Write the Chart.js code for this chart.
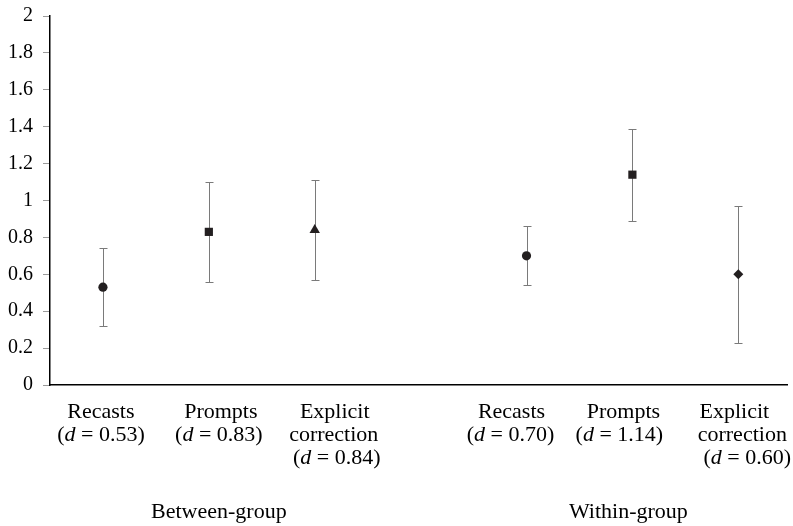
<!DOCTYPE html>
<html>
<head>
<meta charset="utf-8">
<script src="https://cdn.jsdelivr.net/npm/chart.js@4/dist/chart.umd.min.js"></script>
<style>
  html, body { margin: 0; padding: 0; background: #fff; overflow: hidden; }
  #wrap { width: 793px; height: 526px; position: relative; }
</style>
</head>
<body>
<div id="wrap"><canvas id="c" width="793" height="526"></canvas></div>
<script>
// Effect sizes (Cohen's d) with confidence intervals, by feedback type
const feedbackTypes = ['Recasts', 'Prompts', 'Explicit correction', 'Recasts', 'Prompts', 'Explicit correction'];
const groups = ['Between-group', 'Within-group'];
const positions = [0, 1, 2, 4, 5, 6];            // slot 3 is the gap between groups
const effectSizes = [0.53, 0.83, 0.84, 0.70, 1.14, 0.60];
const ciLower = [0.32, 0.56, 0.57, 0.54, 0.89, 0.23];
const ciUpper = [0.74, 1.10, 1.11, 0.86, 1.39, 0.97];
const markerShapes = ['circle', 'rect', 'triangle', 'circle', 'rect', 'rectRot'];
const yTicks = [0, 0.2, 0.4, 0.6, 0.8, 1, 1.2, 1.4, 1.6, 1.8, 2];

// Category label lines (d value is appended as its own line)
const labelLines = [
  ['Recasts'],
  ['Prompts'],
  ['Explicit', 'correction'],
  ['Recasts'],
  ['Prompts'],
  ['Explicit', 'correction']
];
// horizontal nudges (px) of every label line, the last one being the d line
const lineShift = [
  [-2, -2],
  [12, 10],
  [20, 19, 22],
  [-15, -16],
  [-9, -13],
  [-4, 4, 9]
];

const SERIF = '"Liberation Serif", "Times New Roman", serif';
const INK = '#231f20';

const errorBars = {
  id: 'errorBars',
  beforeDatasetsDraw(chart) {
    const { ctx, scales: { x, y } } = chart;
    ctx.save();
    ctx.strokeStyle = '#7a7a7a';
    ctx.lineWidth = 1;
    positions.forEach((p, i) => {
      const px = Math.round(x.getPixelForValue(p)) + 0.5;
      const top = Math.round(y.getPixelForValue(ciUpper[i])) + 0.5;
      const bot = Math.round(y.getPixelForValue(ciLower[i])) + 0.5;
      ctx.beginPath();
      ctx.moveTo(px, top); ctx.lineTo(px, bot);
      ctx.moveTo(px - 4, top); ctx.lineTo(px + 4, top);
      ctx.moveTo(px - 4, bot); ctx.lineTo(px + 4, bot);
      ctx.stroke();
    });
    ctx.restore();
  }
};

// draws "(d = 0.53)" with an italic d
function drawDLabel(ctx, value, cx, baseline, size) {
  const normal = size + 'px ' + SERIF;
  const italic = 'italic ' + size + 'px ' + SERIF;
  const parts = [['(', normal], ['d', italic], [' = ' + value.toFixed(2) + ')', normal]];
  let total = 0;
  parts.forEach(([t, f]) => { ctx.font = f; total += ctx.measureText(t).width; });
  let xx = cx - total / 2;
  ctx.textAlign = 'left';
  parts.forEach(([t, f]) => { ctx.font = f; ctx.fillText(t, xx, baseline); xx += ctx.measureText(t).width; });
}

const categoryLabels = {
  id: 'categoryLabels',
  afterDraw(chart) {
    const { ctx, scales: { x } } = chart;
    const size = 22, lh = 23, first = 418;
    ctx.save();
    ctx.fillStyle = '#000';
    ctx.textBaseline = 'alphabetic';
    positions.forEach((p, i) => {
      const mx = x.getPixelForValue(p);
      const lines = labelLines[i];
      ctx.font = size + 'px ' + SERIF;
      ctx.textAlign = 'center';
      lines.forEach((t, k) => ctx.fillText(t, mx + lineShift[i][k], first + k * lh));
      drawDLabel(ctx, effectSizes[i], mx + lineShift[i][lines.length], first + lines.length * lh, size);
    });
    // group titles centred under each trio
    ctx.font = size + 'px ' + SERIF;
    ctx.textAlign = 'center';
    const g1 = (x.getPixelForValue(positions[0]) + x.getPixelForValue(positions[2])) / 2 + 10;
    const g2 = (x.getPixelForValue(positions[3]) + x.getPixelForValue(positions[5])) / 2 - 4;
    ctx.fillText(groups[0], g1, 518);
    ctx.fillText(groups[1], g2, 518);
    ctx.restore();
  }
};

new Chart(document.getElementById('c'), {
  type: 'scatter',
  data: {
    datasets: [{
      data: positions.map((p, i) => ({ x: p, y: effectSizes[i] })),
      pointStyle: markerShapes,
      pointRadius: markerShapes.map(s => s === 'rect' ? 5.8 : s === 'triangle' ? 6 : s === 'rectRot' ? 5 : 4.6),
      pointBackgroundColor: INK,
      pointBorderColor: INK,
      pointBorderWidth: 0,
      showLine: false
    }]
  },
  options: {
    responsive: false,
    animation: false,
    events: [],
    layout: { padding: { top: 15, right: 0, left: 0, bottom: 0 } },
    plugins: { legend: { display: false }, tooltip: { enabled: false } },
    scales: {
      x: {
        type: 'linear',
        min: -0.5,
        max: 6.46,
        ticks: { display: false },
        grid: { display: false, drawTicks: false },
        border: { display: true, color: '#000', width: 1.5 },
        afterFit(s) { s.height = 526 - 385; }
      },
      y: {
        min: 0,
        max: 2,
        afterBuildTicks(s) { s.ticks = yTicks.map(v => ({ value: v })); },
        ticks: {
          color: '#000',
          padding: 10,
          font: { family: SERIF, size: 20, lineHeight: 0.6 },
          callback: v => String(Math.round(v * 10) / 10)
        },
        grid: { drawOnChartArea: false, drawTicks: true, tickLength: 7, color: '#9a9a9a' },
        border: { display: true, color: '#000', width: 1.5 },
        afterFit(s) { s.width = 50; }
      }
    }
  },
  plugins: [errorBars, categoryLabels]
});
</script>
</body>
</html>
